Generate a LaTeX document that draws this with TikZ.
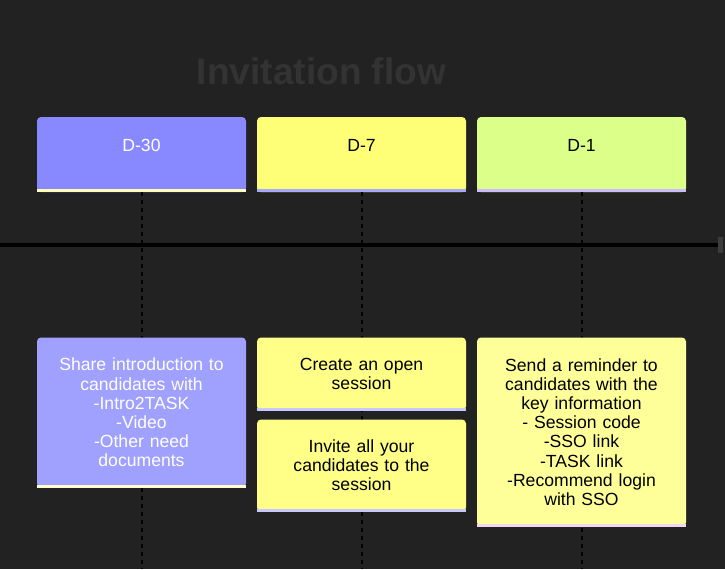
\documentclass[tikz,border=0pt]{standalone}
\usepackage{fontspec}
\setmainfont{Liberation Sans}
\usetikzlibrary{positioning,calc}
\definecolor{cBg}{HTML}{222222}
\definecolor{cTitle}{HTML}{333333}
\definecolor{cEnd}{HTML}{3C3C3C}
\definecolor{cHA}{HTML}{8888FF}
\definecolor{cHB}{HTML}{FFFF77}
\definecolor{cHC}{HTML}{DBFF88}
\definecolor{cA}{HTML}{A0A0FF}
\definecolor{cB}{HTML}{FFFF88}
\definecolor{cC}{HTML}{FFFF99}
\definecolor{sHA}{HTML}{FFFFBB}
\definecolor{sHB}{HTML}{A8A8FF}
\definecolor{sHC}{HTML}{CCBBFF}
\definecolor{sA}{HTML}{FFFFCC}
\definecolor{sB}{HTML}{C8C8FF}
\definecolor{sC}{HTML}{F0D8F0}
\tikzset{
  card/.style={rounded corners=3pt,minimum width=156.75pt,inner sep=0pt,
              text width=150pt,align=center,font=\fontsize{13.2}{14.4}\selectfont},
  head/.style={card,minimum height=56.25pt,text depth=14pt},
  tick/.style={dash pattern=on 3pt off 3pt,line width=1.5pt,black},
  strip/.style={line width=2.25pt},
  timeline/.style={line width=3pt,black},
}

\begin{document}
\begin{tikzpicture}[x=0.75pt,y=-0.75pt]
  \fill[cBg] (0,0) rectangle (725,569);
  \useasboundingbox (0,0) rectangle (725,569);
  \node[font=\bfseries\fontsize{27.8}{30}\selectfont,text=cTitle] (title) at (321.5,71) {Invitation flow};
  \node[head,fill=cHA,text=white] (d30) at (141.5,154.5) {D-30};
  \node[head,fill=cHB] (d7) at (361.5,154.5) {D-7};
  \node[head,fill=cHC] (d1) at (581.5,154.5) {D-1};
  \foreach \n/\x in {d30/141.5,d7/361.5,d1/581.5}{
    \coordinate (\n end) at (\x,569);
    \draw[tick] (\n.south) -- (\n end);}
  \coordinate (t0) at (0,244.5);
  \node[fill=cEnd,minimum width=3.75pt,minimum height=12pt,inner sep=0pt] (tend) at (720.5,244.5) {};
  \draw[timeline] (t0) -- (tend.west);
  \node[card,fill=cA,text=white,minimum height=112.5pt] (share) at (141.5,412.5)
    {Share introduction to\\candidates with\\-Intro2TASK\\-Video\\-Other need\\documents};
  \node[card,fill=cB,minimum height=54.75pt] (open) at (361.5,374)
    {Create an open\\session};
  \node[card,fill=cB,minimum height=69pt] (invite) at (361.5,465.5)
    {Invite all your\\candidates to the\\session};
  \node[card,fill=cC,minimum height=141.75pt] (remind) at (581.5,432)
    {Send a reminder to\\candidates with the\\key information\\- Session code\\-SSO link\\-TASK link\\-Recommend login\\with SSO};
  \foreach \n/\c in {d30/sHA,d7/sHB,d1/sHC,share/sA,open/sB,invite/sB,remind/sC}
    \draw[strip,\c] ([yshift=1.125pt]\n.south west) -- ([yshift=1.125pt]\n.south east);
\end{tikzpicture}
\end{document}
